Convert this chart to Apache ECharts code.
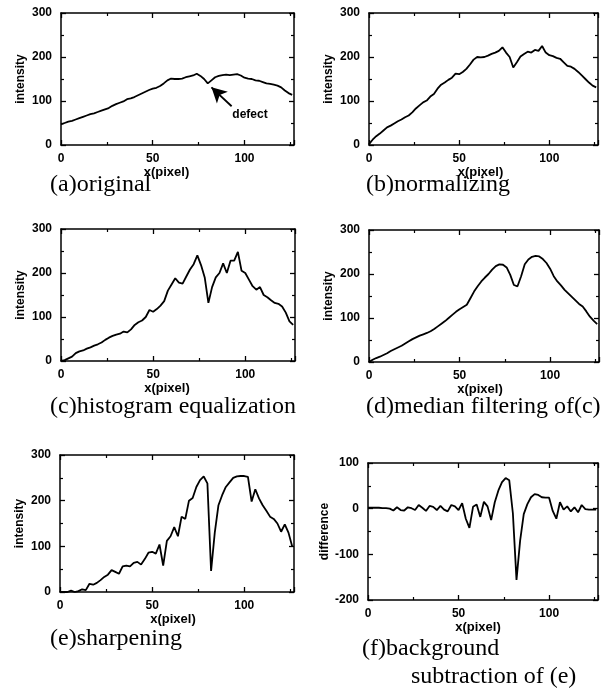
<!DOCTYPE html>
<html><head><meta charset="utf-8">
<script src="https://cdn.jsdelivr.net/npm/echarts@6/dist/echarts.min.js"></script>
<style>html,body{margin:0;padding:0;background:#fff}#c{width:603px;height:689px}</style>
</head><body><div id="c"></div>
<script>
// x positions (pixel index), every 2 pixels
const xs = [0,2,4,6,8,10,12,14,16,18,20,22,24,26,28,30,32,34,36,38,40,42,44,46,48,50,52,54,56,58,60,62,64,66,68,70,72,74,76,78,80,82,84,86,88,90,92,94,96,98,100,102,104,106,108,110,112,114,116,118,120,122,124,126];
const original = [47,50,53,55,58,61,64,67,70,72,75,78,81,84,89,93,96,99,104,106,109,113,117,121,125,128,130,134,140,147,151,150,150,151,154,156,158,162,157,150,140,147,154,157,159,160,159,160,161,158,153,151,150,147,146,143,140,139,137,135,131,124,118,114];
const normalizing = [2,12,20,26,33,40,44,49,54,58,63,67,74,83,90,97,101,110,116,128,137,142,148,153,162,161,166,173,183,194,200,199,200,203,207,210,214,222,210,200,176,188,201,207,212,210,216,214,225,210,204,202,198,196,188,180,178,173,166,158,150,142,135,131];
const equalized = [0,2,6,10,18,22,24,28,31,35,38,42,48,53,57,60,62,67,65,72,82,88,92,100,116,112,118,126,136,160,174,188,178,176,192,208,220,240,218,190,132,168,190,200,222,200,228,228,248,205,200,185,170,162,168,150,145,138,132,130,124,110,90,82];
const median = [0,5,9,12,16,20,25,29,33,37,42,47,52,56,60,63,66,70,75,81,87,93,100,107,114,120,125,130,145,160,172,183,192,200,210,218,222,221,215,198,175,172,195,222,233,239,241,240,234,225,212,195,183,174,164,156,148,140,132,126,115,103,94,86];
const sharpened = [0,0,0,3,0,2,6,4,18,16,20,26,33,38,48,44,40,56,58,56,64,66,60,72,86,88,84,104,58,112,122,142,122,165,160,200,206,230,245,253,238,46,130,190,212,230,240,250,253,254,254,252,198,225,205,190,178,165,160,150,132,148,130,100];
const difference = [2,2,2,2,1,1,0,-4,3,-3,-4,3,1,-3,8,2,-5,6,4,-3,6,-2,-6,8,5,-3,12,-22,-42,4,9,-18,15,5,-25,14,40,58,67,62,-10,-156,-70,-12,10,25,32,30,25,24,24,-5,-22,14,-2,5,-6,3,-8,8,-1,-2,-2,-2];

const captions = [['(a)original'], ['(b)normalizing'], ['(c)histogram equalization'], ['(d)median filtering of(c)'], ['(e)sharpening'], ['(f)background','subtraction of (e)']];
const yNames = ['intensity','intensity','intensity','intensity','intensity','difference'];
const seriesData = [original, normalizing, equalized, median, sharpened, difference];
const yRanges = [[0,300],[0,300],[0,300],[0,300],[0,300],[-200,100]];

const layout = [
  {grid:{left:61,top:13,width:233,height:132}, cap1:[50,173], xshift:22},
  {grid:{left:369,top:13,width:229,height:132}, cap1:[366,173], xshift:6},
  {grid:{left:61,top:229,width:234,height:132}, cap1:[50,395], xshift:22},
  {grid:{left:369,top:230,width:230,height:132}, cap1:[366,395], xshift:8},
  {grid:{left:60,top:455,width:234,height:137}, cap1:[50,627], xshift:8},
  {grid:{left:368,top:463,width:230,height:137}, cap1:[362,637], cap2:[411,665], xshift:10}
];

const lab = {color:'#000', fontFamily:'Liberation Sans', fontWeight:'bold', fontSize:12};
const grid=[], xAxis=[], yAxis=[], series=[], title=[];
layout.forEach((p,i)=>{
  grid.push(p.grid);
  const line = {show:true, onZero:false, lineStyle:{color:'#000', width:1.5}};
  const tick = {show:true, inside:true, length:5, lineStyle:{color:'#000', width:1.3}};
  const minor = {show:true, splitNumber:2, length:3, lineStyle:{color:'#000', width:1.2}};
  xAxis.push({type:'value', gridIndex:i, min:0, max:127, interval:50, position:'bottom',
    axisLine:line, axisTick:tick, minorTick:minor, splitLine:{show:false},
    axisLabel:Object.assign({margin:8, showMaxLabel:false}, lab),
    name:'x(pixel)', nameLocation:'middle', nameGap:21,
    nameTextStyle:Object.assign({}, lab, {fontSize:13, padding:[0,p.xshift,0,0]})});
  xAxis.push({type:'value', gridIndex:i, min:0, max:127, interval:50, position:'top',
    axisLine:line, axisTick:tick, minorTick:minor, splitLine:{show:false}, axisLabel:{show:false}});
  yAxis.push({type:'value', gridIndex:i, min:yRanges[i][0], max:yRanges[i][1], interval:100, position:'left',
    axisLine:line, axisTick:tick, minorTick:minor, splitLine:{show:false},
    axisLabel:Object.assign({margin:9}, lab),
    name:yNames[i], nameLocation:'middle', nameRotate:90, nameGap:34, nameTextStyle:Object.assign({}, lab, {fontSize:12})});
  yAxis.push({type:'value', gridIndex:i, min:yRanges[i][0], max:yRanges[i][1], interval:100, position:'right',
    axisLine:line, axisTick:tick, minorTick:minor, splitLine:{show:false}, axisLabel:{show:false}});
  const s = {type:'line', xAxisIndex:2*i, yAxisIndex:2*i, showSymbol:false, silent:true,
    lineStyle:{color:'#000', width:1.8}, data: xs.map((x,k)=>[x, seriesData[i][k]])};
  if(i===0){
    s.markLine = {silent:true, symbol:['none','arrow'], symbolSize:[12,15],
      lineStyle:{color:'#000', width:1.8, type:'solid'}, label:{show:false},
      data:[[{coord:[93,88]},{coord:[82,131]}]]};
    s.markPoint = {silent:true, symbol:'circle', symbolSize:1, itemStyle:{color:'transparent'},
      label:{show:true, position:'inside', formatter:'defect', color:'#000', fontFamily:'Liberation Sans', fontWeight:'bold', fontSize:12},
      data:[{coord:[103,68]}]};
  }
  series.push(s);
  const ts = {color:'#000', fontFamily:'Liberation Serif', fontWeight:'normal', fontSize:24};
  title.push({text:captions[i][0], left:p.cap1[0], top:p.cap1[1], padding:0, textStyle:ts});
  if(p.cap2) title.push({text:captions[i][1], left:p.cap2[0], top:p.cap2[1], padding:0, textStyle:ts});
});

const chart = echarts.init(document.getElementById('c'), null, {renderer:'canvas'});
chart.setOption({animation:false, backgroundColor:'#fff', title, grid, xAxis, yAxis, series});
</script></body></html>
